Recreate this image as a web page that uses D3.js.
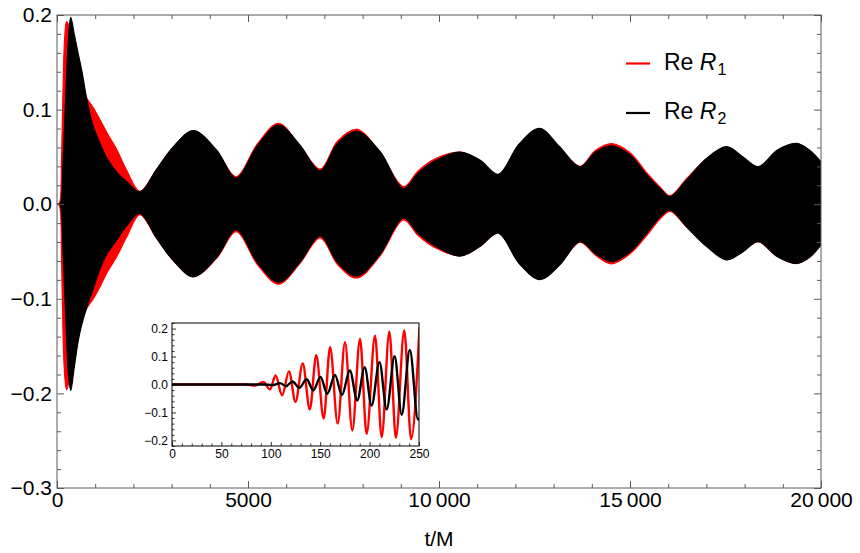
<!DOCTYPE html>
<html>
<head>
<meta charset="utf-8">
<script src="https://cdn.jsdelivr.net/npm/d3@7"></script>
<style>
  body { margin: 0; background: #fff; }
  text { font-family: "Liberation Sans", Arial, sans-serif; }
</style>
</head>
<body>
<div id="chart"></div>
<script>
// envelope of the fast oscillations (t/M)
const tEnv = [0, 40, 80, 120, 160, 200, 250, 300, 360, 450, 560, 650, 780, 950, 1130, 1300, 1560, 1820, 2170,
  2600, 3050, 3570, 4180, 4690, 5250, 5800, 6350, 6890, 7350, 7850, 8450, 9070, 9450, 9850, 10550, 11070, 11550,
  12100, 12640, 13150, 13690, 14100, 14520, 15000, 15440, 15790, 16050, 16480, 17010, 17530, 17950, 18360, 18850,
  19360, 19700, 20000];
const r1Upper = [0, 0, 0.003, 0.05, 0.125, 0.175, 0.193, 0.19, 0.185, 0.165, 0.14, 0.125, 0.112, 0.102, 0.089, 0.076, 0.058, 0.036, 0.0135,
  0.0363, 0.0605, 0.0775, 0.056, 0.029, 0.064, 0.0855, 0.062, 0.037, 0.067, 0.079, 0.055, 0.0185, 0.035, 0.047, 0.055, 0.046, 0.031,
  0.063, 0.0795, 0.060, 0.040, 0.057, 0.064, 0.0545, 0.033, 0.018, 0.009, 0.027, 0.048, 0.060, 0.0495, 0.039, 0.056,
  0.0635, 0.0565, 0.044];
const r1Lower = [0, 0, -0.004, -0.06, -0.14, -0.18, -0.196, -0.19, -0.18, -0.16, -0.135, -0.121, -0.110, -0.100, -0.087, -0.073, -0.0556, -0.035, -0.011,
  -0.0355, -0.0595, -0.0765, -0.057, -0.029, -0.064, -0.0845, -0.063, -0.0355, -0.064, -0.078, -0.055, -0.0165, -0.033, -0.045, -0.0545, -0.0445, -0.030,
  -0.062, -0.079, -0.064, -0.040, -0.054, -0.063, -0.0525, -0.033, -0.0155, -0.0075, -0.024, -0.0445, -0.0585, -0.050, -0.0395, -0.055,
  -0.0625, -0.056, -0.0425];
const r2Upper = [0, 0, 0, 0.008, 0.045, 0.085, 0.135, 0.175, 0.1976, 0.180, 0.158, 0.141, 0.111, 0.082, 0.064, 0.049, 0.034, 0.024, 0.013,
  0.0363, 0.0608, 0.0778, 0.0571, 0.0274, 0.062, 0.0835, 0.063, 0.0354, 0.0646, 0.0769, 0.056, 0.0165, 0.0325, 0.0448, 0.0552, 0.0467, 0.0316,
  0.0637, 0.0802, 0.061, 0.0396, 0.0552, 0.0618, 0.052, 0.0307, 0.0165, 0.008, 0.0256, 0.0486, 0.0608, 0.0502, 0.0396, 0.0571,
  0.0643, 0.0571, 0.0448];
const r2Lower = [0, 0, 0, -0.01, -0.05, -0.09, -0.14, -0.18, -0.197, -0.173, -0.1435, -0.127, -0.109, -0.089, -0.068, -0.053, -0.038, -0.023, -0.0096,
  -0.0354, -0.0599, -0.0768, -0.0561, -0.0269, -0.0618, -0.0825, -0.0618, -0.0335, -0.0618, -0.0759, -0.0533, -0.0146, -0.0306, -0.0429, -0.0548, -0.0448, -0.0306,
  -0.0627, -0.0797, -0.0646, -0.0397, -0.0523, -0.0608, -0.0504, -0.0306, -0.0133, -0.0061, -0.0238, -0.0448, -0.0589, -0.0504, -0.0397, -0.0552,
  -0.0627, -0.0561, -0.0429];

// inset: turning points of the early signal, 0 <= t <= 250
const insetR1T = [0, 75, 84, 92.4, 99.2, 104.8, 111.5, 118.4, 125, 132.3, 139.5, 146, 153.5, 160, 167.7, 175.1, 182.5, 190.3,
  197, 205.5, 212.2, 220, 226.6, 235.1, 242, 250.5];
const insetR1V = [0, 0, -0.004, 0.009, -0.018, 0.032, -0.039, 0.047, -0.062, 0.075, -0.089, 0.105, -0.122, 0.133, -0.140, 0.151, -0.164, 0.163,
  -0.176, 0.175, -0.188, 0.189, -0.19, 0.193, -0.196, 0.205];
const insetR2T = [0, 92, 102, 109.3, 115.5, 122, 128.9, 136.3, 143, 150.3, 157.2, 165, 172, 180, 187.5, 195, 202, 210,
  217.3, 225.3, 232.5, 240.7, 249, 250.5];
const insetR2V = [0, 0, -0.002, 0.005, -0.006, 0.011, -0.012, 0.019, -0.021, 0.027, -0.033, 0.034, -0.038, 0.05, -0.057, 0.062, -0.075, 0.08,
  -0.089, 0.101, -0.108, 0.124, -0.125, -0.12];

const xMajor = [0, 5000, 10000, 15000, 20000];
const yMajor = [-0.3, -0.2, -0.1, 0.0, 0.1, 0.2];
const xInsetMajor = [0, 50, 100, 150, 200, 250];
const yInsetMajor = [-0.2, -0.1, 0.0, 0.1, 0.2];
const legendNames = ['1', '2'];

const W = 860, H = 553;
const frame = { left: 57, right: 821, top: 15, bottom: 488 };
const ins = { left: 172, right: 419, top: 323, bottom: 446 };
const RED = '#ff0000', BLACK = '#000000', FRAME = '#5a5a5a';

const svg = d3.select('#chart').append('svg').attr('width', W).attr('height', H);

const x = d3.scaleLinear().domain([0, 20000]).range([frame.left, frame.right]);
const y = d3.scaleLinear().domain([-0.3, 0.2]).range([frame.bottom, frame.top]);

// clip for main plot
const defs = svg.append('defs');
defs.append('clipPath').attr('id', 'mainClip').append('rect')
  .attr('x', frame.left).attr('y', frame.top)
  .attr('width', frame.right - frame.left).attr('height', frame.bottom - frame.top);
defs.append('clipPath').attr('id', 'insetClip').append('rect')
  .attr('x', ins.left).attr('y', ins.top)
  .attr('width', ins.right - ins.left).attr('height', ins.bottom - ins.top);

const plot = svg.append('g').attr('clip-path', 'url(#mainClip)');

function envArea(up, lo) {
  return d3.area()
    .curve(d3.curveCatmullRom.alpha(0.5))
    .x((d, i) => x(tEnv[i]))
    .y0((d, i) => y(lo[i]))
    .y1((d, i) => y(up[i]))(tEnv);
}

plot.append('path').attr('d', envArea(r1Upper, r1Lower))
  .attr('fill', RED).attr('stroke', RED).attr('stroke-width', 1.2);
plot.append('path').attr('d', envArea(r2Upper, r2Lower))
  .attr('fill', BLACK).attr('stroke', BLACK).attr('stroke-width', 1.2);

// ---- main frame & ticks
function range(a, b, s) { return d3.range(0, Math.round((b - a) / s) + 1).map(i => +(a + i * s).toFixed(6)); }
const xMinor = range(0, 20000, 1000).filter(v => !xMajor.includes(v));
const yMinor = range(-0.3, 0.2, 0.02).filter(v => !yMajor.some(m => Math.abs(m - v) < 1e-9));

function fmtX(v) {
  if (v < 10000) return String(v);
  const s = String(v);
  return s.slice(0, s.length - 3) + '\u2009' + s.slice(-3);
}

function styleAxis(g, size) {
  g.select('.domain').remove();
  g.selectAll('.tick line').attr('stroke', FRAME).attr('stroke-width', 1);
  g.selectAll('.tick text').attr('fill', '#000').attr('font-size', size)
    .attr('font-family', '"Liberation Sans", Arial, sans-serif');
}

const axes = svg.append('g');
axes.append('g').attr('transform', `translate(0,${frame.bottom})`)
  .call(d3.axisBottom(x).tickValues(xMajor).tickSize(-7).tickPadding(4).tickFormat(fmtX))
  .call(g => styleAxis(g, 21));
axes.append('g').attr('transform', `translate(0,${frame.bottom})`)
  .call(d3.axisBottom(x).tickValues(xMinor).tickSize(-4).tickFormat(''))
  .call(g => styleAxis(g, 21));
axes.append('g').attr('transform', `translate(0,${frame.top})`)
  .call(d3.axisTop(x).tickValues(xMajor).tickSize(-7).tickFormat(''))
  .call(g => styleAxis(g, 21));
axes.append('g').attr('transform', `translate(0,${frame.top})`)
  .call(d3.axisTop(x).tickValues(xMinor).tickSize(-4).tickFormat(''))
  .call(g => styleAxis(g, 21));
axes.append('g').attr('transform', `translate(${frame.left},0)`)
  .call(d3.axisLeft(y).tickValues(yMajor).tickSize(-7).tickPadding(5).tickFormat(d3.format('.1f')))
  .call(g => styleAxis(g, 21));
axes.append('g').attr('transform', `translate(${frame.left},0)`)
  .call(d3.axisLeft(y).tickValues(yMinor).tickSize(-4).tickFormat(''))
  .call(g => styleAxis(g, 21));
axes.append('g').attr('transform', `translate(${frame.right},0)`)
  .call(d3.axisRight(y).tickValues(yMajor).tickSize(-7).tickFormat(''))
  .call(g => styleAxis(g, 21));
axes.append('g').attr('transform', `translate(${frame.right},0)`)
  .call(d3.axisRight(y).tickValues(yMinor).tickSize(-4).tickFormat(''))
  .call(g => styleAxis(g, 21));

svg.append('rect')
  .attr('x', frame.left).attr('y', frame.top)
  .attr('width', frame.right - frame.left).attr('height', frame.bottom - frame.top)
  .attr('fill', 'none').attr('stroke', FRAME).attr('stroke-width', 1);

svg.append('text')
  .attr('x', (frame.left + frame.right) / 2).attr('y', 546)
  .attr('text-anchor', 'middle').attr('font-size', 21).attr('fill', '#000')
  .text('t/M');

// ---- legend
const legend = svg.append('g');
[RED, BLACK].forEach((c, i) => {
  const ly = 63.5 + i * 49.5;
  legend.append('line')
    .attr('x1', 626).attr('x2', 650).attr('y1', ly).attr('y2', ly)
    .attr('stroke', c).attr('stroke-width', 2.2);
  const t = legend.append('text').attr('x', 664).attr('y', ly + 6).attr('font-size', 23).attr('fill', '#000');
  t.append('tspan').text('Re ');
  t.append('tspan').attr('font-style', 'italic').text('R');
  t.append('tspan').attr('font-size', 16).attr('dx', 1).attr('dy', 5).text(legendNames[i]);
});

// ---- inset
const x2 = d3.scaleLinear().domain([0, 250]).range([ins.left, ins.right]);
const y2 = d3.scaleLinear().domain([-0.22, 0.22]).range([ins.bottom, ins.top]);
const inset = svg.append('g');
inset.append('rect')
  .attr('x', ins.left).attr('y', ins.top)
  .attr('width', ins.right - ins.left).attr('height', ins.bottom - ins.top)
  .attr('fill', '#fff');

const insetLines = inset.append('g').attr('clip-path', 'url(#insetClip)');
function insetPath(ts, vs) {
  return d3.line().curve(d3.curveMonotoneX)
    .x((d, i) => x2(ts[i])).y((d, i) => y2(vs[i]))(ts);
}
insetLines.append('path').attr('d', insetPath(insetR1T, insetR1V))
  .attr('fill', 'none').attr('stroke', RED).attr('stroke-width', 2.4).attr('stroke-linejoin', 'round');
insetLines.append('path').attr('d', insetPath(insetR2T, insetR2V))
  .attr('fill', 'none').attr('stroke', BLACK).attr('stroke-width', 2.4).attr('stroke-linejoin', 'round');

const xInsetMinor = range(0, 250, 10).filter(v => !xInsetMajor.includes(v));
const yInsetMinor = range(-0.22, 0.22, 0.02).filter(v => !yInsetMajor.some(m => Math.abs(m - v) < 1e-9));

function styleInset(g) {
  g.select('.domain').remove();
  g.selectAll('.tick line').attr('stroke', '#000').attr('stroke-width', 0.8);
  g.selectAll('.tick text').attr('fill', '#000').attr('font-size', 12)
    .attr('font-family', '"Liberation Sans", Arial, sans-serif');
}
inset.append('g').attr('transform', `translate(0,${ins.bottom})`)
  .call(d3.axisBottom(x2).tickValues(xInsetMajor).tickSize(-4).tickPadding(3).tickFormat(d3.format('d')))
  .call(styleInset);
inset.append('g').attr('transform', `translate(0,${ins.bottom})`)
  .call(d3.axisBottom(x2).tickValues(xInsetMinor).tickSize(-2.5).tickFormat(''))
  .call(styleInset);
inset.append('g').attr('transform', `translate(${ins.left},0)`)
  .call(d3.axisLeft(y2).tickValues(yInsetMajor).tickSize(-4).tickPadding(4).tickFormat(d3.format('.1f')))
  .call(styleInset);
inset.append('g').attr('transform', `translate(${ins.left},0)`)
  .call(d3.axisLeft(y2).tickValues(yInsetMinor).tickSize(-2.5).tickFormat(''))
  .call(styleInset);

inset.append('rect')
  .attr('x', ins.left).attr('y', ins.top)
  .attr('width', ins.right - ins.left).attr('height', ins.bottom - ins.top)
  .attr('fill', 'none').attr('stroke', '#000').attr('stroke-width', 1);
</script>
</body>
</html>
